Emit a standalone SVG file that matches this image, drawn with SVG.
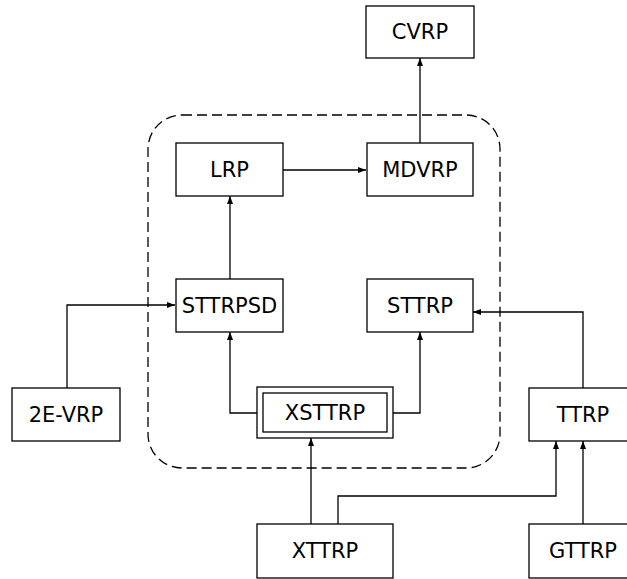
<svg xmlns="http://www.w3.org/2000/svg" width="627" height="579" viewBox="0 0 627 579">
  <defs>
    <marker id="arr" viewBox="0 0 8 6" refX="8" refY="3" markerWidth="8" markerHeight="6" markerUnits="userSpaceOnUse" orient="auto">
      <path d="M0,0 L8,3 L0,6 Z" fill="#000"/>
    </marker>
    <style>
      .box { fill: #fff; stroke: #000; stroke-width: 1.3; }
      .lbl { font-family: "DejaVu Sans", sans-serif; font-size: 21px; fill: #000; text-anchor: middle; dominant-baseline: central; }
      .edge { fill: none; stroke: #000; stroke-width: 1.3; marker-end: url(#arr); }
      .group { fill: none; stroke: #000; stroke-width: 1.3; stroke-dasharray: 10 5; }
    </style>
  </defs>
  <rect width="627" height="579" fill="#fff"/>

  <!-- dashed cluster -->
  <rect class="group" x="148" y="115" width="352" height="353" rx="34" ry="34"/>

  <g id="connectors">
    <path class="edge" d="M420,143 V58"/>
    <path class="edge" d="M283,170 H366"/>
    <path class="edge" d="M230,279 V196"/>
    <path class="edge" d="M67,388 V305 H175"/>
    <path class="edge" d="M257,413 H230 V332"/>
    <path class="edge" d="M393,413 H420 V332"/>
    <path class="edge" d="M583,388 V312 H473"/>
    <path class="edge" d="M311,524 V438"/>
    <path class="edge" d="M338,524 V496 H556 V441"/>
    <path class="edge" d="M583,524 V441"/>
  </g>

  <g id="CVRP"><rect class="box" x="366" y="6" width="108" height="52"/><text class="lbl" x="420" y="32">CVRP</text></g>
  <g id="LRP"><rect class="box" x="176" y="143" width="107" height="53"/><text class="lbl" x="229.5" y="170">LRP</text></g>
  <g id="MDVRP"><rect class="box" x="367" y="143" width="106" height="53"/><text class="lbl" x="420" y="170">MDVRP</text></g>
  <g id="STTRPSD"><rect class="box" x="176" y="279" width="107" height="53"/><text class="lbl" x="229.5" y="305.5">STTRPSD</text></g>
  <g id="STTRP"><rect class="box" x="367" y="279" width="106" height="53"/><text class="lbl" x="420" y="305.5">STTRP</text></g>
  <g id="E2VRP"><rect class="box" x="12" y="388" width="108" height="53"/><text class="lbl" x="66" y="414.5">2E-VRP</text></g>
  <g id="XSTTRP">
    <rect class="box" x="257" y="387" width="136" height="51"/>
    <rect class="box" x="263" y="393" width="124" height="39"/>
    <text class="lbl" x="325" y="412.5">XSTTRP</text>
  </g>
  <g id="TTRP"><rect class="box" x="529" y="388" width="108" height="53"/><text class="lbl" x="583" y="414.5">TTRP</text></g>
  <g id="XTTRP"><rect class="box" x="257" y="524" width="136" height="54"/><text class="lbl" x="325" y="551">XTTRP</text></g>
  <g id="GTTRP"><rect class="box" x="529" y="524" width="108" height="54"/><text class="lbl" x="583" y="551">GTTRP</text></g>
</svg>
